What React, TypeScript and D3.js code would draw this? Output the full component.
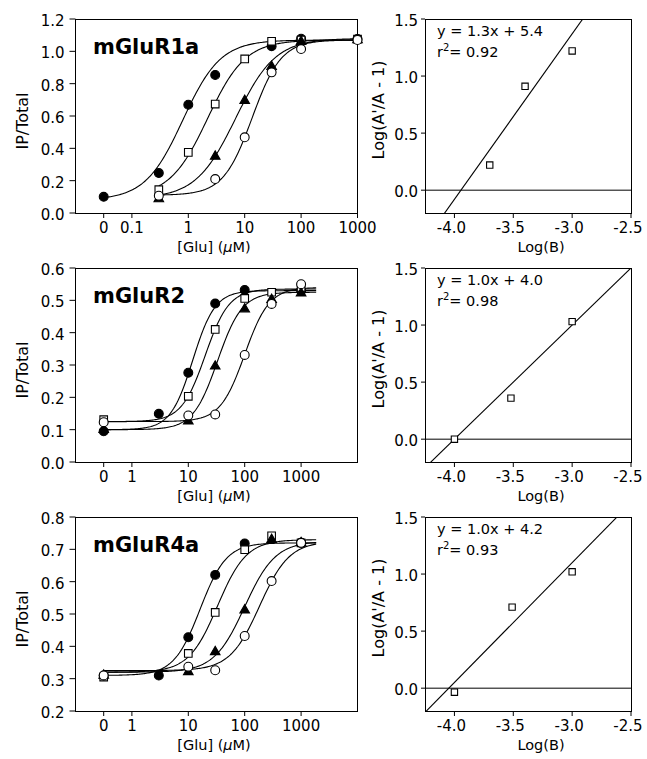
import React from "react";
import * as d3 from "d3";

const FONT = "'DejaVu Sans', 'Liberation Sans', Arial, sans-serif";

// ---------- left column: IP/Total vs [Glu] (uM) ----------
const panelNames = ["mGluR1a", "mGluR2", "mGluR4a"];

// log10 position where the "0" concentration is plotted (axis break)
const zeroPos = [-1.5, -0.5, -0.5];
const xLogDomains = [[-2, 3], [-1, 4], [-1, 4]];
const xTickConc = [
  [0, 0.1, 1, 10, 100, 1000],
  [0, 1, 10, 100, 1000],
  [0, 1, 10, 100, 1000],
];
const xTickLabels = [
  ["0", "0.1", "1", "10", "100", "1000"],
  ["0", "1", "10", "100", "1000"],
  ["0", "1", "10", "100", "1000"],
];
const yDomains = [[0, 1.2], [0, 0.6], [0.2, 0.8]];
const yTickValues = [
  [0, 0.2, 0.4, 0.6, 0.8, 1.0, 1.2],
  [0, 0.1, 0.2, 0.3, 0.4, 0.5, 0.6],
  [0.2, 0.3, 0.4, 0.5, 0.6, 0.7, 0.8],
];

// series order: filled circle, open square, filled triangle, open circle
// points are [conc uM, IP/Total]
const r1aCircle = [[0, 0.1], [0.3, 0.247], [1, 0.67], [3, 0.854], [30, 1.032], [100, 1.078], [1000, 1.076]];
const r1aSquare = [[0.3, 0.144], [1, 0.375], [3, 0.674], [10, 0.953], [30, 1.062], [100, 1.07], [1000, 1.075]];
const r1aTriangle = [[0.3, 0.087], [3, 0.35], [10, 0.695], [30, 0.905], [100, 1.06], [1000, 1.07]];
const r1aOpen = [[0.3, 0.107], [3, 0.21], [10, 0.468], [30, 0.87], [100, 1.014], [1000, 1.07]];

const r2Circle = [[0, 0.095], [3, 0.149], [10, 0.276], [30, 0.49], [100, 0.532], [1000, 0.53]];
const r2Square = [[0, 0.131], [10, 0.203], [30, 0.41], [100, 0.506], [300, 0.525], [1000, 0.54]];
const r2Triangle = [[0, 0.1], [10, 0.126], [30, 0.296], [100, 0.473], [300, 0.502], [1000, 0.522]];
const r2Open = [[0, 0.123], [10, 0.144], [30, 0.147], [100, 0.331], [300, 0.489], [1000, 0.55]];

const r4aCircle = [[0, 0.31], [3, 0.31], [10, 0.428], [30, 0.621], [100, 0.718], [1000, 0.72]];
const r4aSquare = [[0, 0.305], [10, 0.378], [30, 0.505], [100, 0.699], [300, 0.742], [1000, 0.72]];
const r4aTriangle = [[0, 0.31], [10, 0.321], [30, 0.383], [100, 0.512], [300, 0.73], [1000, 0.72]];
const r4aOpen = [[0, 0.31], [10, 0.337], [30, 0.326], [100, 0.432], [300, 0.602], [1000, 0.72]];

const seriesPoints = [
  [r1aCircle, r1aSquare, r1aTriangle, r1aOpen],
  [r2Circle, r2Square, r2Triangle, r2Open],
  [r4aCircle, r4aSquare, r4aTriangle, r4aOpen],
];

// Hill fits: [bottom, top, EC50 (uM), slope]
const r1aFits = [[0.08, 1.07, 0.8, 1.3], [0.1, 1.07, 2.2, 1.3], [0.09, 1.08, 6.9, 1.23], [0.11, 1.07, 13.6, 1.69]];
const r2Fits = [[0.1, 0.53, 12, 2.2], [0.125, 0.535, 20, 2.07], [0.1, 0.525, 33, 2.0], [0.125, 0.54, 100, 2.0]];
const r4aFits = [[0.31, 0.72, 16.2, 1.87], [0.32, 0.73, 33, 1.7], [0.32, 0.725, 100, 1.6], [0.325, 0.725, 184, 1.65]];
const fits = [r1aFits, r2Fits, r4aFits];
const fitStart = [[0, 0.3, 0.3, 0.3], [0, 0, 0, 0], [0, 0, 0, 0]];
const fitEnd = [1000, 1850, 1850];

// ---------- right column: Schild plots ----------
const schildLogB = [[-3.7, -3.4, -3.0], [-4.0, -3.52, -3.0], [-4.0, -3.51, -3.0]];
const schildValue = [[0.22, 0.91, 1.22], [0.0, 0.36, 1.03], [-0.035, 0.71, 1.02]];
const schildSlope = [1.45, 1.0, 1.05];
const schildIntercept = [5.72, 4.0, 4.25];
const eqText = ["y = 1.3x + 5.4", "y = 1.0x + 4.0", "y = 1.0x + 4.2"];
const r2Text = ["0.92", "0.98", "0.93"];
const schildXTicks = [-4.0, -3.5, -3.0, -2.5];
const schildYTicks = [0.0, 0.5, 1.0, 1.5];

const rowTops = [19, 268, 517];
const PH = 194;

const symCircle = d3.symbol().type(d3.symbolCircle).size(62)()!;
const symSquare = d3.symbol().type(d3.symbolSquare).size(58)()!;
const symTriangle = d3.symbol().type(d3.symbolTriangle).size(40)()!;
const symSmallSquare = d3.symbol().type(d3.symbolSquare).size(40)()!;

const markerStyle = [
  { d: symCircle, fill: "#000" },
  { d: symSquare, fill: "#fff" },
  { d: symTriangle, fill: "#000" },
  { d: symCircle, fill: "#fff" },
];

function LeftPanel({ i, top }: { i: number; top: number }) {
  const x0 = 75.5;
  const x1 = 357.5;
  const bottom = top + PH;
  const x = d3.scaleLinear().domain(xLogDomains[i]).range([x0, x1]);
  const y = d3.scaleLinear().domain(yDomains[i]).range([bottom, top]);
  const pos = (c: number) => (c === 0 ? zeroPos[i] : Math.log10(c));

  const curves = fits[i].map((f, k) => {
    const [b, t, ec, h] = f;
    const p0 = pos(fitStart[i][k]);
    const p1 = Math.log10(fitEnd[i]);
    const ps = d3.range(p0, p1, 0.02).concat([p1]);
    const gen = d3
      .line<number>()
      .x((p) => x(p))
      .y((p) => y(b + (t - b) / (1 + Math.pow(ec / Math.pow(10, p), h))));
    return gen(ps);
  });

  return (
    <g>
      <rect x={x0} y={top + 0.5} width={x1 - x0} height={PH} fill="none" stroke="#000" strokeWidth={1} />
      {yTickValues[i].map((v) => (
        <g key={v}>
          <line x1={x0 - 6} x2={x0} y1={y(v)} y2={y(v)} stroke="#000" />
          <text x={x0 - 11} y={y(v) + 7} textAnchor="end" fontSize={15}>
            {v.toFixed(1)}
          </text>
        </g>
      ))}
      {xTickConc[i].map((c, k) => (
        <g key={k}>
          <line x1={x(pos(c))} x2={x(pos(c))} y1={bottom} y2={bottom + 5} stroke="#000" />
          <text x={x(pos(c))} y={bottom + 19.5} textAnchor="middle" fontSize={15}>
            {xTickLabels[i][k]}
          </text>
        </g>
      ))}
      {curves.map((d, k) => (
        <path key={k} d={d || ""} fill="none" stroke="#000" strokeWidth={1.1} />
      ))}
      {seriesPoints[i].map((pts, k) =>
        pts.map(([c, v], j) => (
          <path
            key={k + "-" + j}
            d={markerStyle[k].d}
            transform={`translate(${x(pos(c))},${y(v)})`}
            fill={markerStyle[k].fill}
            stroke="#000"
            strokeWidth={1.1}
          />
        ))
      )}
      <text x={93} y={top + 35} fontSize={21} fontWeight="bold">
        {panelNames[i]}
      </text>
      <text transform={`translate(27.5,${top + 102}) rotate(-90)`} textAnchor="middle" fontSize={16}>
        IP/Total
      </text>
      <text x={214} y={bottom + 38.5} textAnchor="middle" fontSize={14.5}>
        [Glu] (<tspan fontStyle="italic">μ</tspan>M)
      </text>
    </g>
  );
}

function RightPanel({ i, top }: { i: number; top: number }) {
  const x0 = 425;
  const x1 = 631;
  const bottom = top + PH;
  const x = d3.scaleLinear().domain([-4.25, -2.5]).range([x0, x1]);
  const y = d3.scaleLinear().domain([-0.2, 1.5]).range([bottom, top]);
  const fitLine = d3
    .line<number>()
    .x((v) => x(v))
    .y((v) => y(schildSlope[i] * v + schildIntercept[i]));
  const clipId = `schild-clip-${i}`;

  return (
    <g>
      <defs>
        <clipPath id={clipId}>
          <rect x={x0} y={top} width={x1 - x0} height={PH} />
        </clipPath>
      </defs>
      <rect x={x0 + 0.5} y={top + 0.5} width={x1 - x0} height={PH} fill="none" stroke="#000" strokeWidth={1} />
      <line x1={x0} x2={x1} y1={y(0)} y2={y(0)} stroke="#000" strokeWidth={1} />
      <path d={fitLine([-4.25, -2.5]) || ""} stroke="#000" strokeWidth={1.1} fill="none" clipPath={`url(#${clipId})`} />
      {schildYTicks.map((v) => (
        <g key={v}>
          <line x1={x0 - 4} x2={x0} y1={y(v)} y2={y(v)} stroke="#000" />
          <text x={x0 - 7} y={y(v) + 7} textAnchor="end" fontSize={15}>
            {v.toFixed(1)}
          </text>
        </g>
      ))}
      {schildXTicks.map((v) => (
        <g key={v}>
          <line x1={x(v)} x2={x(v)} y1={bottom} y2={bottom + 5} stroke="#000" />
          <text x={x(v) - 3} y={bottom + 19.5} textAnchor="middle" fontSize={15}>
            {v.toFixed(1)}
          </text>
        </g>
      ))}
      {schildLogB[i].map((b, j) => (
        <path
          key={j}
          d={symSmallSquare}
          transform={`translate(${x(b)},${y(schildValue[i][j])})`}
          fill="#fff"
          stroke="#000"
          strokeWidth={1.1}
        />
      ))}
      <text x={x0 + 12} y={top + 17} fontSize={14.5}>
        {eqText[i]}
      </text>
      <text x={x0 + 12} y={top + 38} fontSize={14.5}>
        r<tspan fontSize={10} dy={-6}>2</tspan>
        <tspan dy={6}>= {r2Text[i]}</tspan>
      </text>
      <text transform={`translate(384,${top + 91}) rotate(-90)`} textAnchor="middle" fontSize={16}>
        Log(A'/A - 1)
      </text>
      <text x={541} y={bottom + 38.5} textAnchor="middle" fontSize={14.5}>
        Log(B)
      </text>
    </g>
  );
}

export default function App() {
  return (
    <svg
      width={647}
      height={759}
      style={{ position: "absolute", left: 0, top: 0, display: "block" }}
      fontFamily={FONT}
    >
      <rect width={647} height={759} fill="#fff" />
      {rowTops.map((top, i) => (
        <g key={i}>
          <LeftPanel i={i} top={top} />
          <RightPanel i={i} top={top} />
        </g>
      ))}
    </svg>
  );
}
